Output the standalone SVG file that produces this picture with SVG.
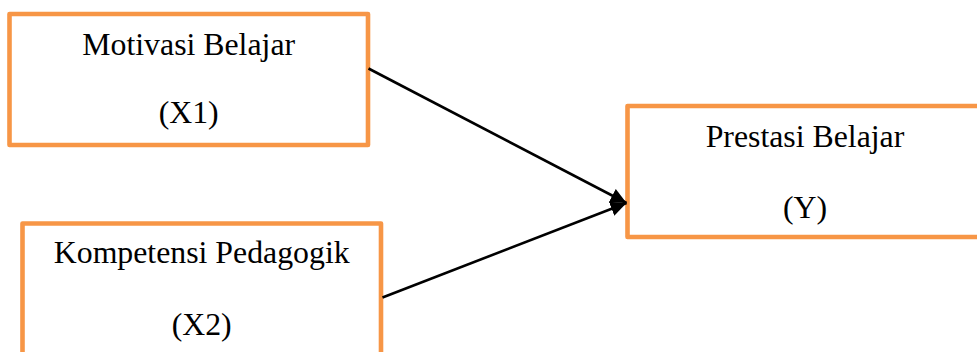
<svg xmlns="http://www.w3.org/2000/svg" width="977" height="352" viewBox="0 0 977 352">
<style>
.box{fill:#ffffff;stroke:#F79646;stroke-width:4.6;stroke-linejoin:round}
.lbl{font-family:"Liberation Serif","Times New Roman",serif;font-size:31.8px;fill:#000000;text-anchor:middle}
.conn{stroke:#000000;stroke-width:2.6;fill:none}
</style>
<defs>
<marker id="arr" markerUnits="userSpaceOnUse" markerWidth="18" markerHeight="16" refX="16" refY="7.5" orient="auto">
<path d="M0,0 L16,7.5 L0,15 z" fill="#000000"/>
</marker>
</defs>
<rect width="977" height="352" fill="#ffffff"/>
<g id="n1">
<rect class="box" x="9.5" y="14" width="358.5" height="131"/>
<text class="lbl" x="188.7" y="55">Motivasi Belajar</text>
<text class="lbl" x="188.7" y="123">(X1)</text>
</g>
<g id="n2">
<rect class="box" x="22.5" y="223.5" width="358.5" height="140"/>
<text class="lbl" x="201.7" y="263">Kompetensi Pedagogik</text>
<text class="lbl" x="201.7" y="335">(X2)</text>
</g>
<g id="n3">
<rect class="box" x="627.5" y="106" width="355" height="131"/>
<text class="lbl" x="805" y="147">Prestasi Belajar</text>
<text class="lbl" x="805" y="218">(Y)</text>
</g>
<g id="connectors">
<line class="conn" x1="368.5" y1="68.5" x2="626.5" y2="203" marker-end="url(#arr)"/>
<line class="conn" x1="382.5" y1="297.5" x2="626.5" y2="203" marker-end="url(#arr)"/>
</g>
</svg>
